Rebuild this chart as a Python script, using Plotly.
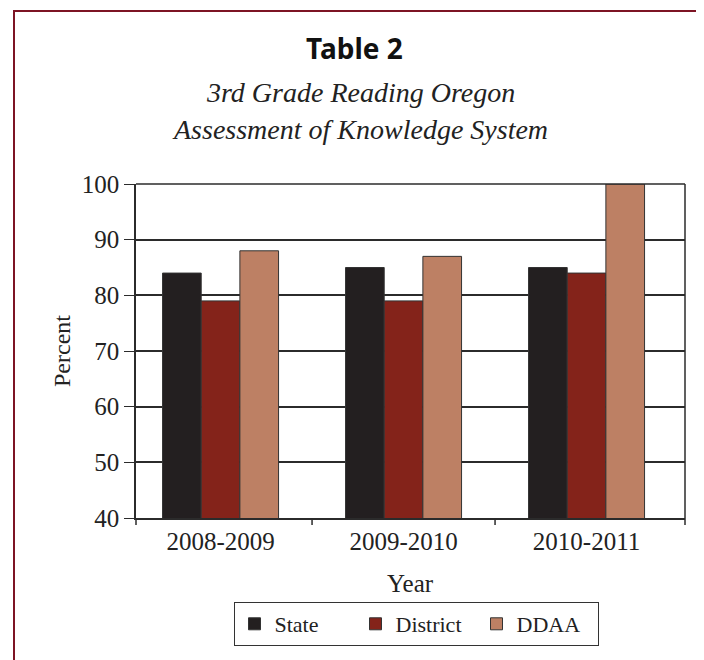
import plotly.graph_objects as go

###############################################################################
# Data

years = ["2008-2009", "2009-2010", "2010-2011"]
state = [84, 85, 85]
district = [79, 79, 84]
ddaa = [88, 87, 100]

series_names = ["State", "District", "DDAA"]
series_colors = ["#231f20", "#84231a", "#bd8064"]

###############################################################################
# Layout helpers (reference pixel -> paper); page body has an 8px margin

OFF = 8
W, H = 704 - OFF, 660 - OFF
L, R, T, B = 136 - OFF, 685 - OFF, 184 - OFF, 518 - OFF


def px(x):
    return (x - OFF - L) / (R - L)


def py(y):
    return (B - (y - OFF)) / (B - T)


serif = "Liberation Serif"
ink = "#2b2b2b"
txt = "#222222"
tick_h = 7 / (B - T)


def label(text, x, y, size, family=serif, color=txt):
    return dict(text=text, x=px(x), y=py(y), xref="paper", yref="paper",
                xanchor="center", yanchor="middle", showarrow=False,
                font=dict(family=family, size=size, color=color))


def xtick(x, xref):
    return dict(type="line", xref=xref, yref="paper", x0=x, x1=x,
                y0=0, y1=-tick_h, line=dict(color=ink, width=1.5))


fig = go.Figure()

for name, vals, color in zip(series_names, [state, district, ddaa], series_colors):
    fig.add_trace(
        go.Bar(
            x=years,
            y=vals,
            name=name,
            marker=dict(color=color, line=dict(color="#333333", width=1)),
        )
    )

# category boundary ticks plus the two ends of the axis
tick_shapes = [xtick(0, "paper"), xtick(1, "paper")]
tick_shapes += [xtick(i + 0.5, "x") for i in range(len(years) - 1)]

fig.update_layout(
    width=W,
    height=H,
    margin=dict(l=L, r=W - R, t=T, b=H - B),
    paper_bgcolor="white",
    plot_bgcolor="white",
    barmode="group",
    bargap=0.366,
    bargroupgap=0,
    font=dict(family=serif, color=txt, size=25),
    showlegend=True,
    legend=dict(
        orientation="h",
        x=px(416),
        xanchor="center",
        y=py(602),
        yanchor="top",
        bordercolor="#333333",
        borderwidth=1,
        font=dict(family=serif, size=22, color=txt),
        itemwidth=30,
        entrywidth=76,
        traceorder="normal",
    ),
    xaxis=dict(
        range=[-0.462, 2.538],
        ticks="",
        ticklen=7,
        showline=True,
        linecolor=ink,
        linewidth=1.5,
        tickfont=dict(size=25),
    ),
    yaxis=dict(
        range=[40, 100],
        dtick=10,
        ticks="outside",
        ticklen=10,
        tickcolor=ink,
        showgrid=True,
        gridcolor=ink,
        gridwidth=1.5,
        showline=True,
        linecolor=ink,
        linewidth=1.5,
        tickfont=dict(size=25),
        title=dict(text="Percent", font=dict(size=24), standoff=4),
    ),
    shapes=[
        # plot frame top/right
        dict(type="line", xref="paper", yref="paper", x0=0, x1=1, y0=1, y1=1,
             line=dict(color=ink, width=1.5)),
        dict(type="line", xref="paper", yref="paper", x0=1, x1=1, y0=0, y1=1,
             line=dict(color=ink, width=1.5)),
        # outer maroon frame
        dict(type="rect", xref="paper", yref="paper",
             x0=px(14), x1=px(699), y0=py(720), y1=py(11),
             line=dict(color="#7d1424", width=2)),
    ] + tick_shapes,
    annotations=[
        label("<b>Table 2</b>", 354, 48, 28, family="Noto Sans", color="#111111"),
        label("<i>3rd Grade Reading Oregon</i>", 360, 92, 28),
        label("<i>Assessment of Knowledge System</i>", 360, 129, 28),
        label("Year", 410, 583, 25),
    ],
)

fig.write_html("out.html")
